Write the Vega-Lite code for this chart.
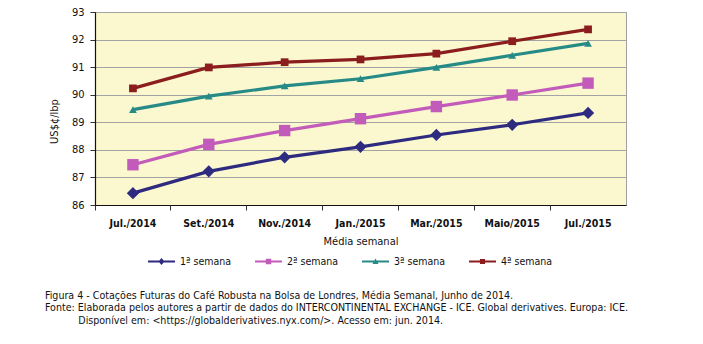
{
  "$schema": "https://vega.github.io/schema/vega-lite/v6.json",
  "width": 531,
  "height": 193,
  "autosize": "none",
  "padding": {"left": 95, "top": 12, "right": 77, "bottom": 139},
  "background": "white",
  "config": {
    "font": "DejaVu Sans Condensed",
    "view": {"stroke": "#a0a0a0", "fill": "#FBF8CF"},
    "legend": {
      "orient": "none",
      "legendX": 53,
      "legendY": 236,
      "direction": "horizontal",
      "symbolSize": 729,
      "symbolStrokeWidth": 0,
      "symbolOpacity": 1,
      "labelFontSize": 10.5,
      "labelColor": "#111111",
      "labelOffset": 5,
      "columnPadding": 24
    }
  },
  "title": {
    "text": "Figura 4 - Cotações Futuras do Café Robusta na Bolsa de Londres, Média Semanal, Junho de 2014.",
    "subtitle": ["Fonte: Elaborada pelos autores a partir de dados do INTERCONTINENTAL EXCHANGE - ICE. Global derivatives. Europa: ICE.", "\u200b\u00a0\u00a0\u00a0\u00a0\u00a0\u00a0\u00a0\u00a0\u00a0\u00a0\u00a0Disponível em: <https://globalderivatives.nyx.com/>. Acesso em: jun. 2014."],
    "orient": "bottom",
    "anchor": "start",
    "frame": "group",
    "dx": -50,
    "offset": 24,
    "fontSize": 10.6,
    "fontWeight": "normal",
    "color": "#111111",
    "subtitleFontSize": 10.6,
    "subtitleColor": "#111111",
    "subtitlePadding": 1,
    "subtitleLineHeight": 13.5
  },
  "data": {
    "values": [
      {"mes": "Jul./2014", "serie": "1ª semana", "valor": 86.43},
      {"mes": "Set./2014", "serie": "1ª semana", "valor": 87.22},
      {"mes": "Nov./2014", "serie": "1ª semana", "valor": 87.73},
      {"mes": "Jan./2015", "serie": "1ª semana", "valor": 88.11},
      {"mes": "Mar./2015", "serie": "1ª semana", "valor": 88.54},
      {"mes": "Maio/2015", "serie": "1ª semana", "valor": 88.91},
      {"mes": "Jul./2015", "serie": "1ª semana", "valor": 89.34},
      {"mes": "Jul./2014", "serie": "2ª semana", "valor": 87.46},
      {"mes": "Set./2014", "serie": "2ª semana", "valor": 88.20},
      {"mes": "Nov./2014", "serie": "2ª semana", "valor": 88.70},
      {"mes": "Jan./2015", "serie": "2ª semana", "valor": 89.13},
      {"mes": "Mar./2015", "serie": "2ª semana", "valor": 89.57},
      {"mes": "Maio/2015", "serie": "2ª semana", "valor": 89.99},
      {"mes": "Jul./2015", "serie": "2ª semana", "valor": 90.42},
      {"mes": "Jul./2014", "serie": "3ª semana", "valor": 89.46},
      {"mes": "Set./2014", "serie": "3ª semana", "valor": 89.95},
      {"mes": "Nov./2014", "serie": "3ª semana", "valor": 90.32},
      {"mes": "Jan./2015", "serie": "3ª semana", "valor": 90.58},
      {"mes": "Mar./2015", "serie": "3ª semana", "valor": 90.99},
      {"mes": "Maio/2015", "serie": "3ª semana", "valor": 91.43},
      {"mes": "Jul./2015", "serie": "3ª semana", "valor": 91.86},
      {"mes": "Jul./2014", "serie": "4ª semana", "valor": 90.23},
      {"mes": "Set./2014", "serie": "4ª semana", "valor": 90.99},
      {"mes": "Nov./2014", "serie": "4ª semana", "valor": 91.18},
      {"mes": "Jan./2015", "serie": "4ª semana", "valor": 91.28},
      {"mes": "Mar./2015", "serie": "4ª semana", "valor": 91.49},
      {"mes": "Maio/2015", "serie": "4ª semana", "valor": 91.94},
      {"mes": "Jul./2015", "serie": "4ª semana", "valor": 92.37}
    ]
  },
  "encoding": {
    "y": {
      "field": "valor",
      "type": "quantitative",
      "scale": {"domain": [86, 93], "nice": false, "zero": false},
      "axis": {
        "values": [86, 87, 88, 89, 90, 91, 92, 93],
        "title": "US$¢/lbp",
        "titleFontSize": 11,
        "titleFontWeight": "normal",
        "titleColor": "#111111",
        "titlePadding": 12,
        "titleY": 109,
        "labelFontSize": 11,
        "labelColor": "#111111",
        "labelPadding": 6,
        "tickSize": 5,
        "tickColor": "#333333",
        "domainColor": "#111111",
        "domainWidth": 1.2,
        "grid": true,
        "gridColor": "#a3a3a3",
        "gridWidth": 1
      }
    },
    "color": {
      "field": "serie",
      "type": "nominal",
      "scale": {"domain": ["1ª semana", "2ª semana", "3ª semana", "4ª semana"], "range": ["#2E2A80", "#C25BBA", "#268A86", "#8B1D1E"]},
      "legend": {"title": null}
    }
  },
  "layer": [
    {
      "mark": {"type": "line", "strokeWidth": 3.2},
      "encoding": {
        "x": {
          "field": "mes",
          "type": "ordinal",
          "sort": ["Jul./2014", "Set./2014", "Nov./2014", "Jan./2015", "Mar./2015", "Maio/2015", "Jul./2015"],
          "scale": {"type": "band", "paddingInner": 0, "paddingOuter": 0},
          "axis": {
            "orient": "bottom",
            "title": "Média semanal",
            "titleFontSize": 11,
            "titleFontWeight": "normal",
            "titleColor": "#111111",
            "titlePadding": 7,
            "labelFontSize": 10.5,
            "labelFontWeight": "bold",
            "labelColor": "#111111",
            "labelAngle": 0,
            "labelPadding": 13,
            "ticks": false,
            "domainColor": "#111111",
            "domainWidth": 1.2
          }
        }
      }
    },
    {
      "mark": {"type": "point", "filled": true, "opacity": 0},
      "encoding": {
        "x": {
          "field": "mes",
          "type": "ordinal",
          "sort": ["Jul./2014", "Set./2014", "Nov./2014", "Jan./2015", "Mar./2015", "Maio/2015", "Jul./2015"],
          "scale": {"type": "band", "paddingInner": 0, "paddingOuter": 0},
          "axis": {
            "orient": "bottom",
            "title": null,
            "labels": false,
            "domain": false,
            "bandPosition": 0,
            "tickSize": 5,
            "tickColor": "#333333"
          }
        },
        "shape": {
          "field": "serie",
          "type": "nominal",
          "scale": {"domain": ["1ª semana", "2ª semana", "3ª semana", "4ª semana"], "range": ["M-1,-0.07H1V0.07H-1Z M0,-0.26L0.22,0L0,0.26L-0.22,0Z", "M-1,-0.07H1V0.07H-1Z M-0.2,-0.2H0.2V0.2H-0.2Z", "M-1,-0.07H1V0.07H-1Z M0,-0.22L0.22,0.18L-0.22,0.18Z", "M-1,-0.07H1V0.07H-1Z M-0.19,-0.19H0.19V0.19H-0.19Z"]},
          "legend": {"title": null}
        }
      }
    },
    {
      "transform": [{"filter": "datum.serie === '1ª semana'"}],
      "mark": {"type": "point", "filled": true, "opacity": 1, "shape": "diamond", "size": 150},
      "encoding": {"x": {"field": "mes", "type": "ordinal", "sort": ["Jul./2014", "Set./2014", "Nov./2014", "Jan./2015", "Mar./2015", "Maio/2015", "Jul./2015"], "axis": null}}
    },
    {
      "transform": [{"filter": "datum.serie === '2ª semana'"}],
      "mark": {"type": "point", "filled": true, "opacity": 1, "shape": "square", "size": 130},
      "encoding": {"x": {"field": "mes", "type": "ordinal", "sort": ["Jul./2014", "Set./2014", "Nov./2014", "Jan./2015", "Mar./2015", "Maio/2015", "Jul./2015"], "axis": null}}
    },
    {
      "transform": [{"filter": "datum.serie === '3ª semana'"}],
      "mark": {"type": "point", "filled": true, "opacity": 1, "shape": "triangle-up", "size": 60},
      "encoding": {"x": {"field": "mes", "type": "ordinal", "sort": ["Jul./2014", "Set./2014", "Nov./2014", "Jan./2015", "Mar./2015", "Maio/2015", "Jul./2015"], "axis": null}}
    },
    {
      "transform": [{"filter": "datum.serie === '4ª semana'"}],
      "mark": {"type": "point", "filled": true, "opacity": 1, "shape": "square", "size": 60},
      "encoding": {"x": {"field": "mes", "type": "ordinal", "sort": ["Jul./2014", "Set./2014", "Nov./2014", "Jan./2015", "Mar./2015", "Maio/2015", "Jul./2015"], "axis": null}}
    }
  ],
  "resolve": {"axis": {"x": "independent"}}
}
